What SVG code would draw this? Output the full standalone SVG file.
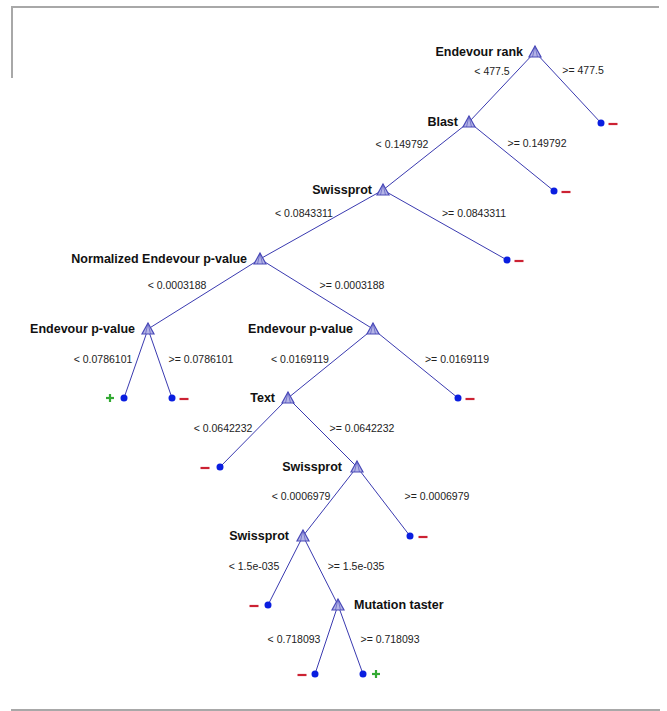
<svg xmlns="http://www.w3.org/2000/svg" width="667" height="711" viewBox="0 0 667 711">
<defs>
<style>
.frame{stroke:#a8a8a8;stroke-width:2;fill:none}
.edge{stroke:#3a3ab0;stroke-width:1;fill:none}
.tri{fill:#b4b4e6;stroke:#4a4ab8;stroke-width:1.2}
.dot{fill:#0a1ee0}
.nl{font-family:"Liberation Sans",Arial,sans-serif;font-weight:bold;font-size:12.5px;fill:#111}
.el{font-family:"Liberation Sans",Arial,sans-serif;font-size:10.5px;fill:#222;text-anchor:middle}
.minus{stroke:#cc2233;stroke-width:2.2}
.plus{stroke:#33aa33;stroke-width:2.2}
</style>
<g id="tri"><path class="tri" d="M0,-6 L6,5 L-6,5 Z"/><path d="M0,-6 L-2.5,5 M0,-6 L2.5,5" stroke="#4a4ab8" stroke-width="0.6"/></g>
<g id="mi"><line class="minus" x1="-4.5" y1="0" x2="4.5" y2="0"/></g>
<g id="pl"><line class="plus" x1="-4" y1="0" x2="4" y2="0"/><line class="plus" x1="0" y1="-4" x2="0" y2="4"/></g>
</defs>
<rect width="667" height="711" fill="#fff"/>
<g id="frame">
<path class="frame" d="M12,78 L12,7 L659,7"/>
<line class="frame" x1="11" y1="710" x2="660" y2="710" stroke="#c8c8c8"/>
</g>
<g id="connectors">
<line class="edge" x1="535" y1="52" x2="601" y2="123"/>
<line class="edge" x1="535" y1="52" x2="469" y2="122"/>
<line class="edge" x1="469" y1="122" x2="554" y2="191"/>
<line class="edge" x1="469" y1="122" x2="383" y2="190"/>
<line class="edge" x1="383" y1="190" x2="507" y2="260"/>
<line class="edge" x1="383" y1="190" x2="260" y2="259"/>
<line class="edge" x1="260" y1="259" x2="148" y2="329"/>
<line class="edge" x1="260" y1="259" x2="373" y2="329"/>
<line class="edge" x1="148" y1="329" x2="124" y2="398"/>
<line class="edge" x1="148" y1="329" x2="172" y2="398"/>
<line class="edge" x1="373" y1="329" x2="288" y2="398"/>
<line class="edge" x1="373" y1="329" x2="458" y2="398"/>
<line class="edge" x1="288" y1="398" x2="220" y2="467"/>
<line class="edge" x1="288" y1="398" x2="357" y2="467"/>
<line class="edge" x1="357" y1="467" x2="303" y2="536"/>
<line class="edge" x1="357" y1="467" x2="410" y2="536"/>
<line class="edge" x1="303" y1="536" x2="268" y2="605"/>
<line class="edge" x1="303" y1="536" x2="338" y2="605"/>
<line class="edge" x1="338" y1="605" x2="315" y2="674"/>
<line class="edge" x1="338" y1="605" x2="363" y2="674"/>
<text class="el" x="492" y="75">&lt; 477.5</text>
<text class="el" x="583" y="74">&gt;= 477.5</text>
<text class="el" x="402" y="148">&lt; 0.149792</text>
<text class="el" x="537" y="147">&gt;= 0.149792</text>
<text class="el" x="304" y="217">&lt; 0.0843311</text>
<text class="el" x="474" y="217">&gt;= 0.0843311</text>
<text class="el" x="177" y="289">&lt; 0.0003188</text>
<text class="el" x="352" y="289">&gt;= 0.0003188</text>
<text class="el" x="103" y="363">&lt; 0.0786101</text>
<text class="el" x="201" y="363">&gt;= 0.0786101</text>
<text class="el" x="300" y="363">&lt; 0.0169119</text>
<text class="el" x="457" y="363">&gt;= 0.0169119</text>
<text class="el" x="223" y="432">&lt; 0.0642232</text>
<text class="el" x="362" y="432">&gt;= 0.0642232</text>
<text class="el" x="301" y="500">&lt; 0.0006979</text>
<text class="el" x="437" y="500">&gt;= 0.0006979</text>
<text class="el" x="254" y="570">&lt; 1.5e-035</text>
<text class="el" x="356" y="570">&gt;= 1.5e-035</text>
<text class="el" x="294" y="643">&lt; 0.718093</text>
<text class="el" x="390" y="643">&gt;= 0.718093</text>
</g>
<g id="n-endevour-rank"><use href="#tri" x="535" y="52"/><text class="nl" x="523" y="56" text-anchor="end">Endevour rank</text></g>
<g id="n-blast"><use href="#tri" x="469" y="122"/><text class="nl" x="458" y="126" text-anchor="end">Blast</text></g>
<g id="n-swissprot1"><use href="#tri" x="383" y="190"/><text class="nl" x="372" y="194" text-anchor="end">Swissprot</text></g>
<g id="n-normalized"><use href="#tri" x="260" y="259"/><text class="nl" x="247" y="263" text-anchor="end">Normalized Endevour p-value</text></g>
<g id="n-endevour-p-left"><use href="#tri" x="148" y="329"/><text class="nl" x="135" y="333" text-anchor="end">Endevour p-value</text></g>
<g id="n-endevour-p-right"><use href="#tri" x="373" y="329"/><text class="nl" x="353" y="333" text-anchor="end">Endevour p-value</text></g>
<g id="n-text"><use href="#tri" x="288" y="398"/><text class="nl" x="275" y="402" text-anchor="end">Text</text></g>
<g id="n-swissprot2"><use href="#tri" x="357" y="467"/><text class="nl" x="342" y="471" text-anchor="end">Swissprot</text></g>
<g id="n-swissprot3"><use href="#tri" x="303" y="536"/><text class="nl" x="289" y="540" text-anchor="end">Swissprot</text></g>
<g id="n-mutation"><use href="#tri" x="338" y="605"/><text class="nl" x="354" y="609">Mutation taster</text></g>
<g id="leaf1"><circle class="dot" cx="601" cy="123" r="3.5"/><use href="#mi" x="613" y="124"/></g>
<g id="leaf2"><circle class="dot" cx="554" cy="191" r="3.5"/><use href="#mi" x="566" y="192"/></g>
<g id="leaf3"><circle class="dot" cx="507" cy="260" r="3.5"/><use href="#mi" x="519" y="261"/></g>
<g id="leaf4"><circle class="dot" cx="124" cy="398" r="3.5"/><use href="#pl" x="110" y="398"/></g>
<g id="leaf5"><circle class="dot" cx="172" cy="398" r="3.5"/><use href="#mi" x="184" y="399"/></g>
<g id="leaf6"><circle class="dot" cx="458" cy="398" r="3.5"/><use href="#mi" x="470" y="399"/></g>
<g id="leaf7"><circle class="dot" cx="220" cy="467" r="3.5"/><use href="#mi" x="205" y="468"/></g>
<g id="leaf8"><circle class="dot" cx="410" cy="536" r="3.5"/><use href="#mi" x="423" y="537"/></g>
<g id="leaf9"><circle class="dot" cx="268" cy="605" r="3.5"/><use href="#mi" x="254" y="606"/></g>
<g id="leaf10"><circle class="dot" cx="315" cy="674" r="3.5"/><use href="#mi" x="302" y="675"/></g>
<g id="leaf11"><circle class="dot" cx="363" cy="674" r="3.5"/><use href="#pl" x="376" y="674"/></g>
</svg>
